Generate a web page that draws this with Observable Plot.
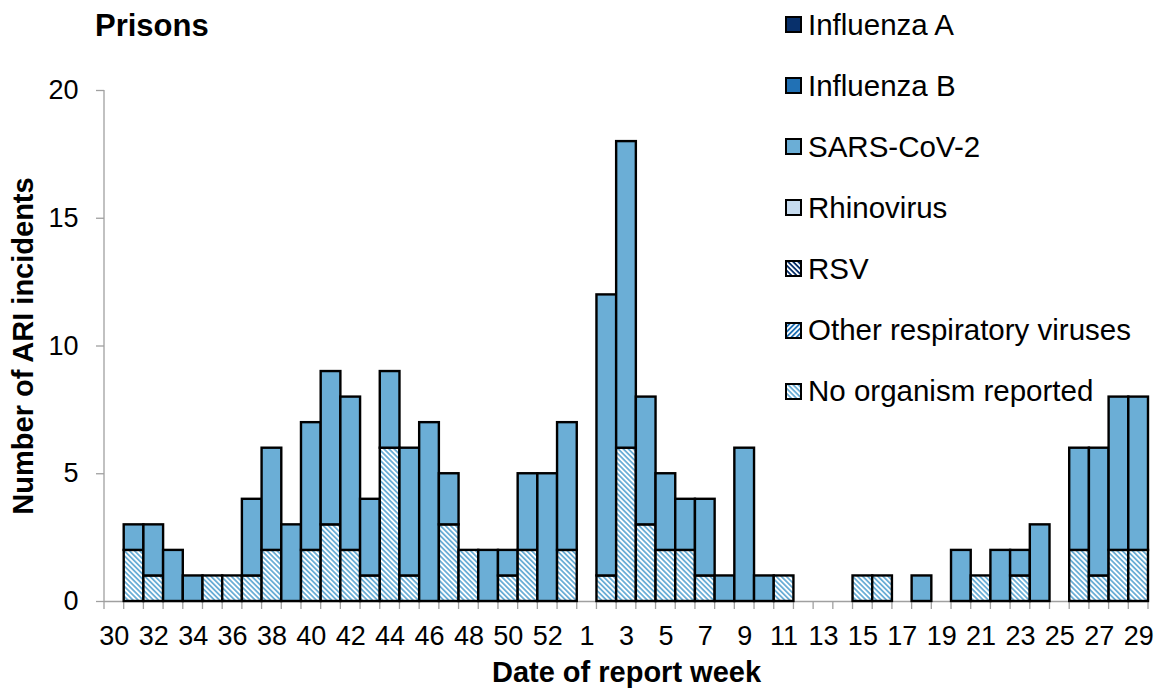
<!DOCTYPE html>
<html>
<head>
<meta charset="utf-8">
<script src="https://cdn.jsdelivr.net/npm/d3@7"></script>
<script src="https://cdn.jsdelivr.net/npm/@observablehq/plot@0.6"></script>
<style>
  body { margin: 0; background: #fff; font-family: "Liberation Sans", Arial, sans-serif; }
  #wrap { position: relative; width: 1158px; height: 688px; overflow: hidden; }
  #title { position: absolute; left: 95px; top: 10px; font-size: 31px; line-height: 31px; font-weight: bold; color: #000; }
  .lg { position: absolute; left: 785px; height: 30px; line-height: 30px; font-size: 29.5px; display: flex; align-items: center; white-space: nowrap; color: #000; }
  .lg svg { margin-right: 6px; flex: none; }
  [aria-label="y-axis tick label"], [aria-label="x-axis tick label"] { font-size: 27px; }
</style>
</head>
<body>
<svg width="0" height="0" style="position:absolute">
  <defs>
    <pattern id="hatchNo" patternUnits="userSpaceOnUse" width="3.6" height="8" patternTransform="rotate(-45)">
      <rect width="3.6" height="8" fill="#ffffff"/>
      <rect width="1.8" height="8" fill="#6baed6"/>
    </pattern>
    <pattern id="hatchRSV" patternUnits="userSpaceOnUse" width="3.6" height="8" patternTransform="rotate(-45)">
      <rect width="3.6" height="8" fill="#ffffff"/>
      <rect width="1.8" height="8" fill="#08306b"/>
    </pattern>
    <pattern id="hatchOther" patternUnits="userSpaceOnUse" width="3.6" height="8" patternTransform="rotate(45)">
      <rect width="3.6" height="8" fill="#ffffff"/>
      <rect width="1.8" height="8" fill="#2171b5"/>
    </pattern>
  </defs>
</svg>
<div id="wrap"></div>
<script>
// ---- data ----
const weeks = ["30","31","32","33","34","35","36","37","38","39","40","41","42","43","44","45","46","47","48","49","50","51","52","53",
               "1","2","3","4","5","6","7","8","9","10","11","12","13","14","15","16","17","18","19","20","21","22","23","24","25","26","27","28","29"];
const noOrganism = [0,2,1,0,0,1,1,1,2,0,2,3,2,1,6,1,0,3,2,0,1,2,0,2,
                    0,1,6,3,2,2,1,0,0,0,1,0,0,0,1,1,0,0,0,0,1,0,1,0,0,2,1,2,2];
const sarsCoV2   = [0,1,2,2,1,0,0,3,4,3,5,6,6,3,3,5,7,2,0,2,1,3,5,5,
                    0,11,12,5,3,2,3,1,6,1,0,0,0,0,0,0,0,1,0,2,0,2,1,3,0,4,5,6,6];
const xTickLabels = ["30","32","34","36","38","40","42","44","46","48","50","52",
                     "1","3","5","7","9","11","13","15","17","19","21","23","25","27","29"];
const yTicks = [0, 5, 10, 15, 20];
const legendNames = ["Influenza A","Influenza B","SARS-CoV-2","Rhinovirus","RSV","Other respiratory viruses","No organism reported"];
const legendFills = ["#08306b","#2171b5","#6baed6","#c6dbef","url(#hatchRSV)","url(#hatchOther)","url(#hatchNo)"];
const titleText = "Prisons";
const yTitle = "Number of ARI incidents";
const xTitle = "Date of report week";

// ---- table for Plot ----
const table = [];
weeks.forEach((w, i) => {
  if (noOrganism[i] > 0) table.push({week: w, series: "No organism reported", value: noOrganism[i]});
  if (sarsCoV2[i] > 0) table.push({week: w, series: "SARS-CoV-2", value: sarsCoV2[i]});
});

const axisGray = "#a0a0a0";
const tickLen = 8;

const categoryTicks = (index, scales, values, dims) => {
  const x = scales.x;
  const bw = x(weeks[1]) - x(weeks[0]);
  const y0 = dims.height - dims.marginBottom;
  const edges = weeks.map(w => x(w)).concat([x(weeks[weeks.length - 1]) + bw]);
  const g = d3.create("svg:g").attr("stroke", axisGray).attr("stroke-width", 1.3);
  g.selectAll("line.t").data(edges).join("line")
    .attr("x1", d => d).attr("x2", d => d)
    .attr("y1", y0).attr("y2", y0 + tickLen);
  g.append("line")
    .attr("x1", dims.marginLeft).attr("x2", dims.marginLeft)
    .attr("y1", dims.marginTop).attr("y2", y0);
  return g.node();
};

const chart = Plot.plot({
  width: 1158,
  height: 688,
  marginLeft: 104,
  marginRight: 10,
  marginTop: 90,
  marginBottom: 87,
  style: {fontFamily: '"Liberation Sans", Arial, sans-serif', background: "white", color: "black", overflow: "visible"},
  x: {domain: weeks, padding: 0, axis: null},
  y: {domain: [0, 20], axis: null},
  color: {domain: ["No organism reported", "SARS-CoV-2"], range: ["url(#hatchNo)", "#6baed6"]},
  marks: [
    Plot.ruleY([0], {stroke: axisGray, strokeWidth: 1.3}),
    categoryTicks,
    Plot.axisY(yTicks, {tickSize: tickLen, tickPadding: 18, fontSize: 27, stroke: axisGray, strokeWidth: 1.3, label: null}),
    Plot.axisX(xTickLabels, {tickSize: 0, tickPadding: 24, fontSize: 27, label: null}),
    Plot.barY(table, Plot.stackY({x: "week", y: "value", fill: "series", stroke: "black", strokeWidth: 2.4, inset: 0})),
    Plot.text([yTitle], {text: d => d, frameAnchor: "left", textAnchor: "middle", rotate: -90, dx: -81, fontSize: 29, fontWeight: "bold", fill: "black"}),
    Plot.text([xTitle], {text: d => d, frameAnchor: "bottom", textAnchor: "middle", dy: 80, fontSize: 29, fontWeight: "bold", fill: "black"})
  ]
});

const wrap = document.getElementById("wrap");
wrap.appendChild(chart);

const title = document.createElement("div");
title.id = "title";
title.textContent = titleText;
wrap.appendChild(title);

legendNames.forEach((name, i) => {
  const row = document.createElement("div");
  row.className = "lg";
  row.style.top = (9.5 + i * 61.1) + "px";
  row.innerHTML = `<svg width="17" height="17"><rect x="1" y="1" width="15" height="15" fill="${legendFills[i]}" stroke="black" stroke-width="2"/></svg><span>${name}</span>`;
  wrap.appendChild(row);
});
</script>
</body>
</html>
